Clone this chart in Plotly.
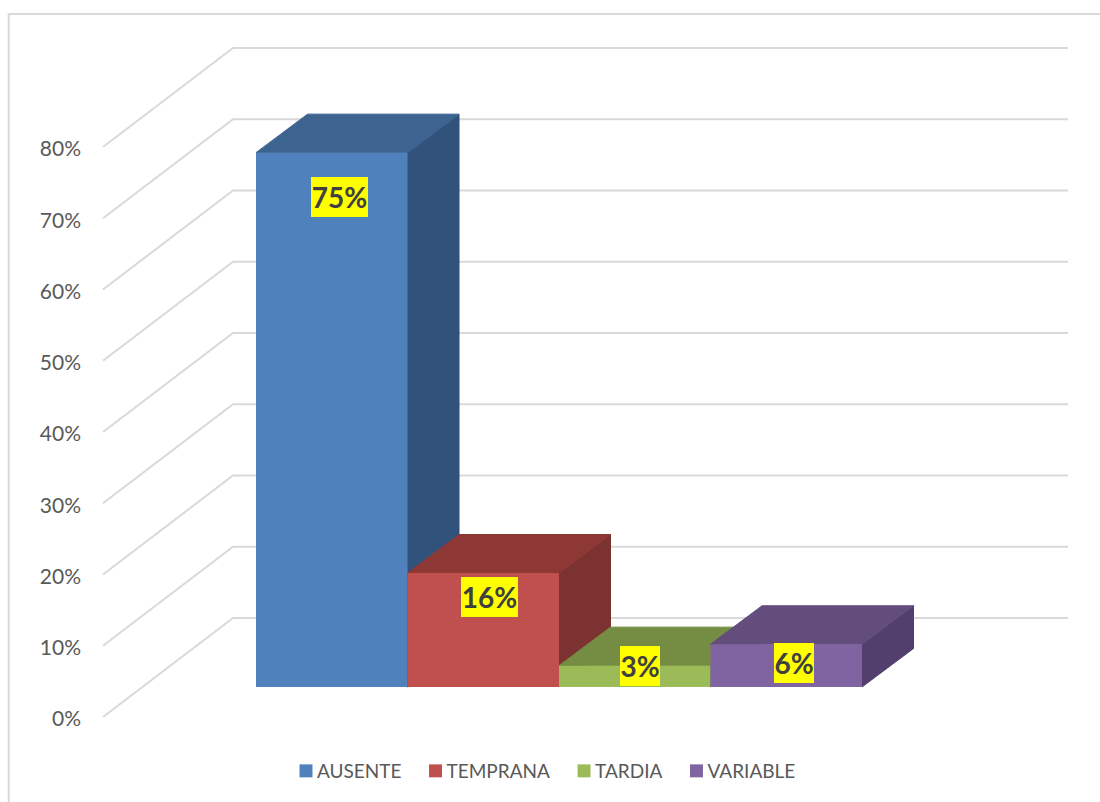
# Libraries

import plotly.graph_objects as go

# Data
categories = ["AUSENTE", "TEMPRANA", "TARDIA", "VARIABLE"]
values = [75, 16, 3, 6]
value_labels = ["75%", "16%", "3%", "6%"]
axis_ticks = [0, 10, 20, 30, 40, 50, 60, 70, 80]
axis_tick_labels = ["0%", "10%", "20%", "30%", "40%", "50%", "60%", "70%", "80%"]

# Face colours
front_colors = ["#4F81BD", "#C0504D", "#9BBB59", "#8064A2"]
side_colors = ["#31527B", "#7C3230", "#647A3A", "#533F6D"]
top_colors = ["#3D6491", "#8E3836", "#748D42", "#634D7D"]

WIDTH, HEIGHT = 1100, 802

# Pixel scale of the bar plane, everything else hangs off this
PX_PER_CAT = 151.5
PX_PER_PCT = 7.125
BAR_LEFT_PX = 256
BAR_BASE_PX = 687
TICK_ZERO_PX = 717

# Oblique depth of the bars, in axis units
BAR_DX = 51.5 / PX_PER_CAT
BAR_DY = 38.5 / PX_PER_PCT

# Back wall, in axis units
WALL_FRONT_X = (103 - BAR_LEFT_PX) / PX_PER_CAT
WALL_BACK_X = (233 - BAR_LEFT_PX) / PX_PER_CAT
WALL_RIGHT_X = (1068 - BAR_LEFT_PX) / PX_PER_CAT
WALL_DY = (717 - 618) / PX_PER_PCT

# Where the yellow labels sit on the bar plane
LABEL_X = [0.551, 1.538, 2.535, 3.55]
LABEL_Y = [68.8, 12.6, 2.95, 3.37]

FONT = "Lato"
GRID_COLOR = "#D9D9D9"
TEXT_COLOR = "#595959"

# Plotly keeps a wide gap between legend swatch and text, pull the swatches closer.
# Done as a css rule since the legend can get redrawn after the plot promise resolves
LEGEND_SWATCH_JS = """
document.body.style.margin = '0';
var style = document.createElement('style');
style.textContent = '.legend .legendpoints path { transform: translate(29px, 0) scale(1.08) !important; }';
document.head.appendChild(style);
"""


def add_walls(fig):
    xs, ys = [], []
    for tick in axis_ticks:
        xs += [WALL_FRONT_X, WALL_BACK_X, WALL_RIGHT_X, None]
        ys += [tick, tick + WALL_DY, tick + WALL_DY, None]
    fig.add_trace(go.Scatter(x=xs, y=ys, mode="lines", yaxis="y", showlegend=False, hoverinfo="skip",
                             line=dict(color=GRID_COLOR, width=2)))
    return fig


def add_bar_depth(fig):
    # sides and tops go left to right so the next bar covers the previous side
    for i, value in enumerate(values):
        x0, x1 = i, i + 1
        fig.add_trace(go.Scatter(x=[x1, x1 + BAR_DX, x1 + BAR_DX, x1, x1],
                                 y=[0, BAR_DY, value + BAR_DY, value, 0],
                                 mode="lines", fill="toself", fillcolor=side_colors[i], yaxis="y2",
                                 line=dict(width=1, color=side_colors[i]), showlegend=False, hoverinfo="skip"))
        fig.add_trace(go.Scatter(x=[x0, x1, x1 + BAR_DX, x0 + BAR_DX, x0],
                                 y=[value, value, value + BAR_DY, value + BAR_DY, value],
                                 mode="lines", fill="toself", fillcolor=top_colors[i], yaxis="y2",
                                 line=dict(width=1, color=top_colors[i]), showlegend=False, hoverinfo="skip"))
    return fig


def add_bar_fronts(fig):
    for i, value in enumerate(values):
        fig.add_trace(go.Bar(x=[i + 0.5], y=[value], width=[1], name=categories[i], yaxis="y3",
                             marker=dict(color=front_colors[i], line=dict(width=0))))
    return fig


def add_labels(fig):
    for i, label in enumerate(value_labels):
        fig.add_annotation(x=LABEL_X[i], y=LABEL_Y[i], xref="x", yref="y3", text=f"<b>{label}</b>",
                           showarrow=False, width=57 if len(label) > 2 else 40, height=40,
                           bgcolor="#FFFF00", borderpad=0, borderwidth=0, align="center", valign="middle",
                           font=dict(family=FONT, size=28, color="#404040"))
    return fig


fig = go.Figure()
fig = add_walls(fig)
fig = add_bar_depth(fig)
fig = add_bar_fronts(fig)
fig = add_labels(fig)

bar_y_range = [(BAR_BASE_PX - HEIGHT) / PX_PER_PCT, BAR_BASE_PX / PX_PER_PCT]

fig.update_layout(
    width=WIDTH,
    height=HEIGHT,
    margin=dict(l=0, r=0, t=0, b=0),
    paper_bgcolor="white",
    plot_bgcolor="white",
    barmode="overlay",
    font=dict(family=FONT, color=TEXT_COLOR),
    xaxis=dict(range=[-BAR_LEFT_PX / PX_PER_CAT, (WIDTH - BAR_LEFT_PX) / PX_PER_CAT], visible=False,
               fixedrange=True),
    yaxis=dict(range=[(TICK_ZERO_PX - HEIGHT) / PX_PER_PCT, TICK_ZERO_PX / PX_PER_PCT],
               anchor="free", position=81 / WIDTH, tickmode="array", tickvals=axis_ticks,
               ticktext=axis_tick_labels, ticks="", showgrid=False, zeroline=False, showline=False,
               ticklabelshift=2, tickfont=dict(family=FONT, size=21, color=TEXT_COLOR), fixedrange=True),
    yaxis2=dict(range=bar_y_range, overlaying="y", visible=False, fixedrange=True),
    yaxis3=dict(range=bar_y_range, overlaying="y", visible=False, fixedrange=True),
    legend=dict(orientation="h", x=539 / WIDTH, xanchor="center", y=(HEIGHT - 771) / HEIGHT, yanchor="middle",
                font=dict(family=FONT, size=19, color=TEXT_COLOR), bgcolor="rgba(0,0,0,0)"),
    shapes=[dict(type="path", xref="paper", yref="paper", layer="below",
                 path=f"M {8.7 / WIDTH},0 V {(HEIGHT - 14) / HEIGHT} H 1",
                 line=dict(color=GRID_COLOR, width=2))],
)

fig.write_html("out.html", config=dict(displayModeBar=False), post_script=LEGEND_SWATCH_JS)
